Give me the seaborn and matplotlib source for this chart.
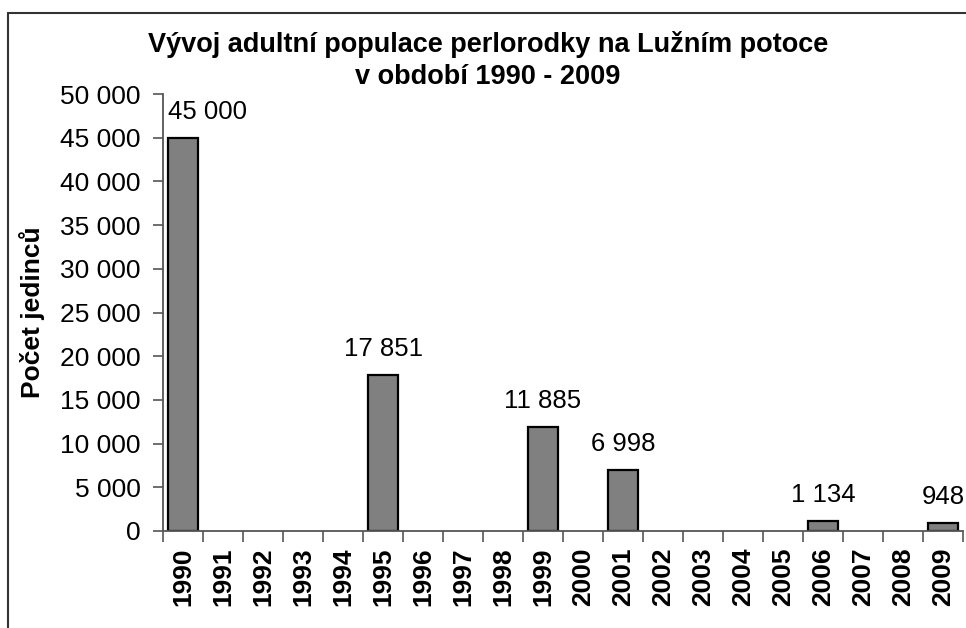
import numpy as np
import pandas as pd
import matplotlib
matplotlib.use("Agg")
import matplotlib.pyplot as plt
from matplotlib.lines import Line2D
from matplotlib.ticker import FuncFormatter, FixedLocator
import seaborn as sns

# Survey years and counted adults (None = no survey that year)
years = [str(y) for y in range(1990, 2010)]
counts = [45000, None, None, None, None, 17851, None, None, None, 11885,
          None, 6998, None, None, None, None, 1134, None, None, 948]
y_ticks = list(range(0, 50001, 5000))

title_text = "Vývoj adultní populace perlorodky na Lužním potoce\nv období 1990 - 2009"
y_label = "Počet jedinců"

df = pd.DataFrame({"rok": years, "pocet": pd.array(counts, dtype="Float64").astype(float)})

sns.set_style("white")
plt.rcParams["font.family"] = ["Liberation Sans", "DejaVu Sans"]
plt.rcParams["text.color"] = "black"
plt.rcParams["axes.labelcolor"] = "black"
plt.rcParams["xtick.color"] = "black"
plt.rcParams["ytick.color"] = "black"

fig = plt.figure(figsize=(9.66, 6.28), dpi=100)
ax = fig.add_axes([163 / 966, 97 / 628, 800 / 966, 437 / 628])

sns.barplot(data=df, x="rok", y="pocet", order=years, color="#808080",
            saturation=1, width=0.75, edgecolor="black", linewidth=1.6, ax=ax)

# value labels above each bar
for i, v in enumerate(counts):
    if v is None:
        continue
    txt = f"{v:,.0f}".replace(",", " ")
    if i == 0:
        ax.annotate(txt, (i - 0.37, v), xytext=(0, 10), textcoords="offset points",
                    ha="left", va="bottom", fontsize=18.5, color="black")
    else:
        ax.annotate(txt, (i, v), xytext=(0, 10), textcoords="offset points",
                    ha="center", va="bottom", fontsize=18.5, color="black")

ax.set_xlim(-0.5, len(years) - 0.5)
ax.set_ylim(0, 50000)
ax.set_yticks(y_ticks)
ax.yaxis.set_major_formatter(FuncFormatter(lambda v, p: f"{v:,.0f}".replace(",", " ")))

ax.set_xlabel("")
ax.set_ylabel(y_label, fontsize=19, fontweight="bold", color="black")
ax.yaxis.set_label_coords(-0.147, 0.5)

# category ticks sit between bars
ax.xaxis.set_minor_locator(FixedLocator(np.arange(-0.5, len(years), 1.0)))
ax.tick_params(axis="x", which="major", length=0, pad=12, labelsize=19,
               labelrotation=90, labelcolor="black")
ax.tick_params(axis="x", which="minor", length=8, width=1.2, color="#555555",
               direction="out", bottom=True)
ax.tick_params(axis="y", which="major", length=7, width=1.2, color="#555555",
               direction="out", left=True, pad=9, labelsize=19, labelcolor="black")
for lab in ax.get_xticklabels():
    lab.set_fontweight("bold")
    lab.set_va("top")
    lab.set_ha("center")

for side in ["top", "right"]:
    ax.spines[side].set_visible(False)
for side in ["left", "bottom"]:
    ax.spines[side].set_color("#555555")
    ax.spines[side].set_linewidth(1.3)

fig.text(488 / 966, 1 - 31 / 628, title_text, ha="center", va="top",
         fontsize=19.5, fontweight="bold", linespacing=1.28, color="black")

# chart frame
fig.add_artist(Line2D([8 / 966, 8 / 966], [0, 1 - 12.5 / 628],
                      transform=fig.transFigure, color="#333333", lw=1.5))
fig.add_artist(Line2D([8 / 966, 1], [1 - 12.5 / 628, 1 - 12.5 / 628],
                      transform=fig.transFigure, color="#333333", lw=1.5))

fig.savefig("out.png", dpi=100, facecolor="white")
